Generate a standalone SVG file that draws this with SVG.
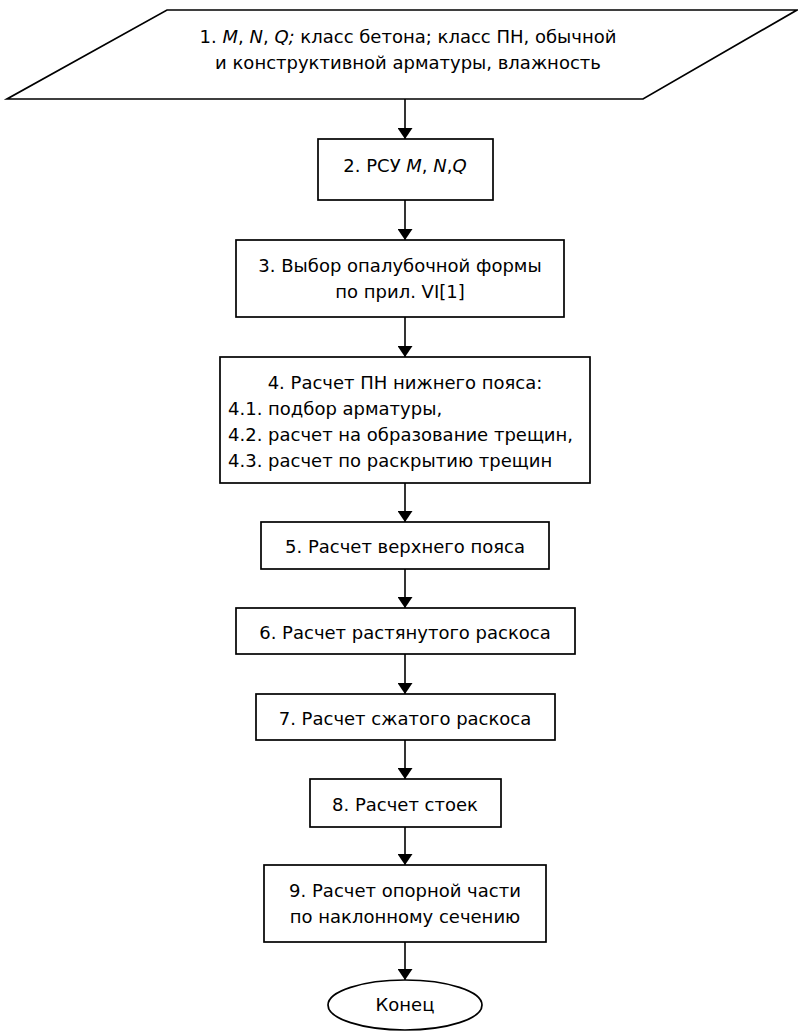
<svg xmlns="http://www.w3.org/2000/svg" width="798" height="1033" viewBox="0 0 798 1033">
<defs>
<marker id="ah" viewBox="0 0 11 15" refX="11" refY="7.5" markerWidth="11" markerHeight="15" markerUnits="userSpaceOnUse" orient="auto">
<path d="M0,0 L11,7.5 L0,15 Z" fill="#000"/>
</marker>
<style>
.s{fill:#fff;stroke:#000;stroke-width:1.7}
.t{font-family:"DejaVu Sans","Liberation Sans",sans-serif;font-size:18px;fill:#000}
.c{text-anchor:middle}
.i{font-style:italic}
.a{stroke:#000;stroke-width:1.6;fill:none;marker-end:url(#ah)}
</style>
</defs>
<rect width="798" height="1033" fill="#fff"/>
<g id="connectors">
<line class="a" x1="405" y1="99" x2="405" y2="139"/>
<line class="a" x1="405" y1="200" x2="405" y2="240"/>
<line class="a" x1="405" y1="317" x2="405" y2="357"/>
<line class="a" x1="405" y1="483" x2="405" y2="522"/>
<line class="a" x1="405" y1="569" x2="405" y2="608"/>
<line class="a" x1="405" y1="654" x2="405" y2="694"/>
<line class="a" x1="405" y1="740" x2="405" y2="779"/>
<line class="a" x1="405" y1="827" x2="405" y2="865"/>
<line class="a" x1="405" y1="942" x2="405" y2="980"/>
</g>
<g id="n1">
<polygon class="s" points="167,10 797,10 643,99 7,99"/>
<text class="t c" x="408" y="43">1. <tspan class="i">M</tspan>, <tspan class="i">N</tspan>, <tspan class="i">Q;</tspan> класс бетона; класс ПН, обычной</text>
<text class="t c" x="408" y="69">и конструктивной арматуры, влажность</text>
</g>
<g id="n2">
<rect class="s" x="318" y="139" width="175" height="61"/>
<text class="t c" x="405" y="172">2. РСУ <tspan class="i">M</tspan>, <tspan class="i">N</tspan>,<tspan class="i">Q</tspan></text>
</g>
<g id="n3">
<rect class="s" x="236" y="240" width="328" height="77"/>
<text class="t c" x="400" y="272">3. Выбор опалубочной формы</text>
<text class="t c" x="400" y="298">по прил. VI[1]</text>
</g>
<g id="n4">
<rect class="s" x="220" y="357" width="370" height="126"/>
<text class="t c" x="405" y="389">4. Расчет ПН нижнего пояса:</text>
<text class="t" x="228" y="415">4.1. подбор арматуры,</text>
<text class="t" x="228" y="441">4.2. расчет на образование трещин,</text>
<text class="t" x="228" y="467">4.3. расчет по раскрытию трещин</text>
</g>
<g id="n5">
<rect class="s" x="261" y="522" width="288" height="47"/>
<text class="t c" x="405" y="553">5. Расчет верхнего пояса</text>
</g>
<g id="n6">
<rect class="s" x="236" y="608" width="339" height="46"/>
<text class="t c" x="405" y="639">6. Расчет растянутого раскоса</text>
</g>
<g id="n7">
<rect class="s" x="256" y="694" width="299" height="46"/>
<text class="t c" x="405" y="725">7. Расчет сжатого раскоса</text>
</g>
<g id="n8">
<rect class="s" x="310" y="779" width="191" height="48"/>
<text class="t c" x="405" y="811">8. Расчет стоек</text>
</g>
<g id="n9">
<rect class="s" x="264" y="865" width="282" height="77"/>
<text class="t c" x="405" y="897">9. Расчет опорной части</text>
<text class="t c" x="405" y="923">по наклонному сечению</text>
</g>
<g id="end">
<ellipse class="s" cx="405" cy="1005" rx="77" ry="25"/>
<text class="t c" x="405" y="1011">Конец</text>
</g>
</svg>
